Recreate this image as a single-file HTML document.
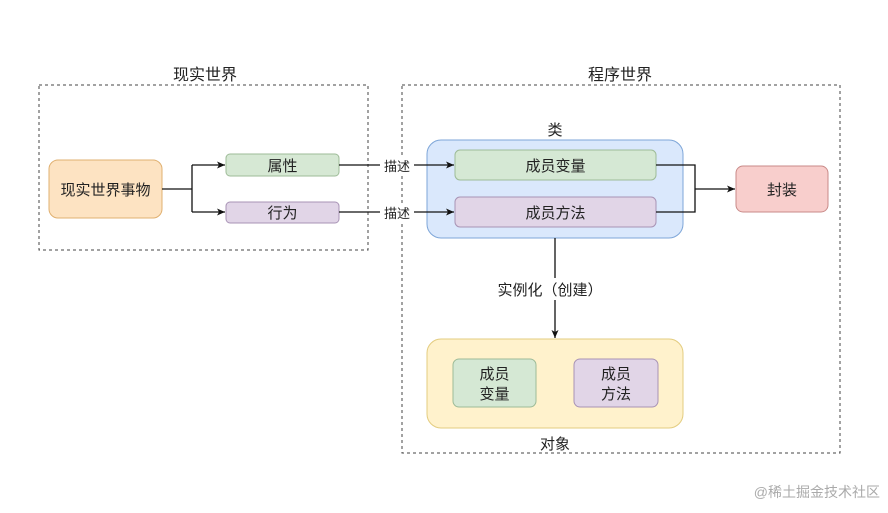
<!DOCTYPE html>
<html><head><meta charset="utf-8"><style>
body{margin:0;background:#fff;}
svg text{font-family:"Liberation Sans","Noto Sans CJK SC",sans-serif;fill:#222;}
</style></head><body>
<svg width="888" height="508" viewBox="0 0 888 508" xmlns="http://www.w3.org/2000/svg">
<defs><marker id="a" markerWidth="10" markerHeight="10" refX="9" refY="5" orient="auto" markerUnits="userSpaceOnUse"><path d="M1,1.5 L9,5 L1,8.5 L3,5 Z" fill="#111"/></marker></defs>
<rect x="39" y="85" width="329" height="165" fill="none" stroke="#444" stroke-dasharray="3,3"/>
<rect x="402" y="85" width="438" height="368" fill="none" stroke="#444" stroke-dasharray="3,3"/>
<text x="205" y="80" font-size="16" text-anchor="middle">现实世界</text>
<text x="620" y="80" font-size="16" text-anchor="middle">程序世界</text>
<rect x="49" y="160" width="113" height="58" rx="9" fill="#fde3c2" stroke="#e0b070"/>
<text x="105.5" y="195" font-size="15" text-anchor="middle">现实世界事物</text>
<rect x="226" y="154" width="113" height="22" rx="4" fill="#d6e8d4" stroke="#9dbb97"/>
<text x="282.5" y="171" font-size="15" text-anchor="middle">属性</text>
<rect x="226" y="202" width="113" height="21" rx="4" fill="#e1d5e7" stroke="#a893b5"/>
<text x="282.5" y="218" font-size="15" text-anchor="middle">行为</text>
<path d="M162,189 H192 M192,165 V212" stroke="#111" fill="none" stroke-width="1.3"/>
<path d="M192,165 H225" stroke="#111" stroke-width="1.3" marker-end="url(#a)"/>
<path d="M192,212 H225" stroke="#111" stroke-width="1.3" marker-end="url(#a)"/>
<rect x="427" y="140" width="256" height="98" rx="14" fill="#dae8fc" stroke="#7ea6d8"/>
<text x="555" y="135" font-size="15" text-anchor="middle">类</text>
<rect x="455" y="150" width="201" height="30" rx="5" fill="#d5e8d4" stroke="#9dbb97"/>
<text x="555.5" y="171" font-size="15" text-anchor="middle">成员变量</text>
<rect x="455" y="197" width="201" height="30" rx="5" fill="#e1d5e7" stroke="#a893b5"/>
<text x="555.5" y="218" font-size="15" text-anchor="middle">成员方法</text>
<path d="M339,165 H454" stroke="#111" stroke-width="1.3" marker-end="url(#a)"/>
<path d="M339,212 H454" stroke="#111" stroke-width="1.3" marker-end="url(#a)"/>
<rect x="380" y="158" width="34" height="16" fill="#fff"/>
<rect x="380" y="205" width="34" height="16" fill="#fff"/>
<text x="397" y="171" font-size="13" text-anchor="middle">描述</text>
<text x="397" y="218" font-size="13" text-anchor="middle">描述</text>
<path d="M656,165 H695 V212 H656" stroke="#111" fill="none" stroke-width="1.3"/>
<path d="M695,189 H735" stroke="#111" stroke-width="1.3" marker-end="url(#a)"/>
<rect x="736" y="166" width="92" height="46" rx="7" fill="#f8cecc" stroke="#c98a88"/>
<text x="782" y="195" font-size="15" text-anchor="middle">封装</text>
<path d="M555,238 V338" stroke="#111" stroke-width="1.3" marker-end="url(#a)"/>
<rect x="488" y="278" width="126" height="22" fill="#fff"/>
<text x="550" y="295" font-size="15" text-anchor="middle">实例化（创建）</text>
<rect x="427" y="339" width="256" height="89" rx="14" fill="#fff2cc" stroke="#e3cc7f"/>
<rect x="453" y="359" width="83" height="48" rx="6" fill="#d5e8d4" stroke="#9dbb97"/>
<text x="494.5" y="379" font-size="15" text-anchor="middle">成员</text>
<text x="494.5" y="399" font-size="15" text-anchor="middle">变量</text>
<rect x="574" y="359" width="84" height="48" rx="6" fill="#e1d5e7" stroke="#a893b5"/>
<text x="616" y="379" font-size="15" text-anchor="middle">成员</text>
<text x="616" y="399" font-size="15" text-anchor="middle">方法</text>
<text x="555" y="449" font-size="15" text-anchor="middle">对象</text>
<text x="880" y="497" font-size="14" text-anchor="end" style="fill:#aaa">@稀土掘金技术社区</text>
</svg>
</body></html>
